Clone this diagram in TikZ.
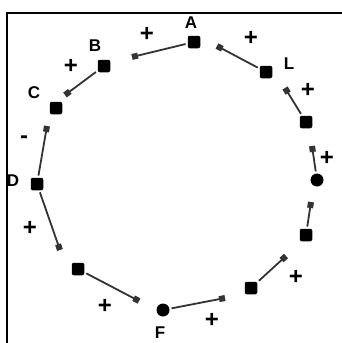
\documentclass[tikz,border=0pt]{standalone}
\usepackage{fontspec}
\setmainfont{Liberation Sans}
\usetikzlibrary{arrows.meta}
\begin{document}
\begin{tikzpicture}[x=1pt,y=-1pt,
  dot/.style={circle,fill=black,inner sep=0pt,minimum size=13pt},
  sq/.style={rectangle,rounded corners=2pt,fill=black,inner sep=0pt,minimum size=12.5pt},
  lab/.style={font=\bfseries\fontsize{17}{17}\selectfont,inner sep=0pt},
  sign/.style={font=\bfseries\fontsize{24}{24}\selectfont,inner sep=0pt},
  conn/.style={line width=1.8pt,black!80,-{Square[length=6pt,width=6pt]},shorten <=2pt}]
\useasboundingbox (0,0) rectangle (342,343);
\fill[white] (0,0) rectangle (342,343);
\draw[line width=2.2pt] (342,13) -- (7,13) -- (7,343);
% big dots
\node[sq]  (A)  at (194,42) {};
\node[sq]  (L)  at (266,72) {};
\node[sq]  (n3) at (306,122) {};
\node[dot] (n4) at (317,180) {};
\node[sq]  (n5) at (306,235) {};
\node[sq]  (n6) at (251,288) {};
\node[dot] (F)  at (163,310) {};
\node[sq]  (n8) at (78,269) {};
\node[sq]  (D)  at (37,184) {};
\node[sq]  (C)  at (56,108) {};
\node[sq]  (B)  at (104,66) {};
% arrow ends
\coordinate (tA) at (132,57);
\coordinate (tB) at (65,95);
\coordinate (tD) at (47,126);
\coordinate (tD2) at (60,250);
\coordinate (t8) at (139,301);
\coordinate (tF) at (225,298);
\coordinate (t6) at (286,256);
\coordinate (t5) at (311,202);
\coordinate (t4) at (312,146);
\coordinate (t3) at (285,88);
\coordinate (tL) at (217,46);
% connectors
\draw[conn] (A) -- (tA);
\draw[conn] (B) -- (tB);
\draw[conn] (D) -- (tD);
\draw[conn] (D) -- (tD2);
\draw[conn] (n8) -- (t8);
\draw[conn] (F) -- (tF);
\draw[conn] (n6) -- (t6);
\draw[conn] (n5) -- (t5);
\draw[conn] (n4) -- (t4);
\draw[conn] (n3) -- (t3);
\draw[conn] (L) -- (tL);
% labels
\node[lab] (lA) at (191,23) {A};
\node[lab] (lB) at (95,46) {B};
\node[lab] (lC) at (34,93) {C};
\node[lab] (lD) at (13,181) {D};
\node[lab] (lF) at (160,333) {F};
\node[lab] (lL) at (289,64) {L};
% signs
\node[sign] (s1) at (147,34) {+};
\node[sign] (s2) at (71,66) {+};
\node[sign] (s3) at (24,140) {-};
\node[sign] (s4) at (30,228) {+};
\node[sign] (s5) at (105,306) {+};
\node[sign] (s6) at (212,320) {+};
\node[sign] (s7) at (296,277) {+};
\node[sign] (s8) at (327,158) {+};
\node[sign] (s9) at (308,90) {+};
\node[sign] (s10) at (251,38) {+};
\end{tikzpicture}
\end{document}
